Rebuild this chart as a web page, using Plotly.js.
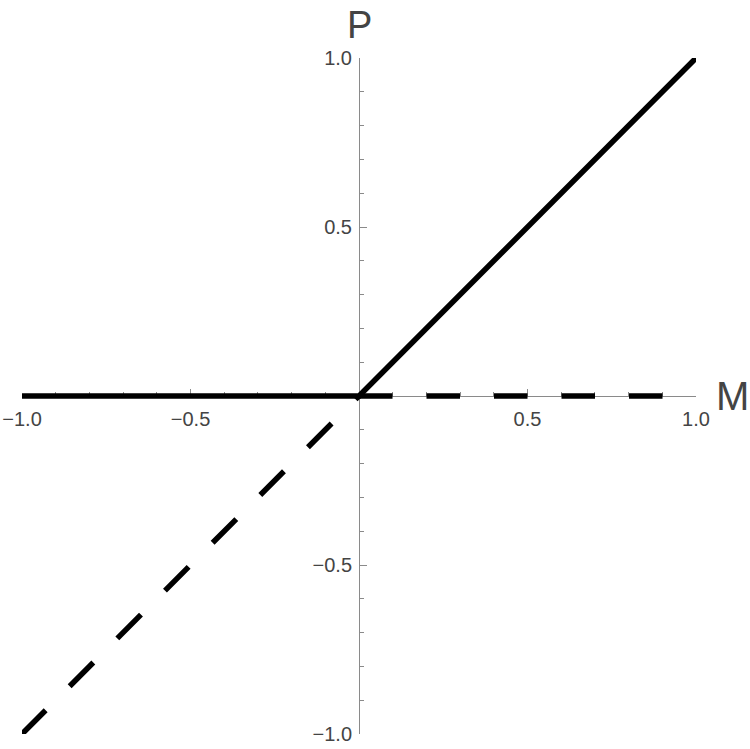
<!DOCTYPE html>
<html>
<head>
<meta charset="utf-8">
<script src="https://cdn.plot.ly/plotly-3.0.1.min.js"></script>
<style>
  html, body { margin: 0; padding: 0; background: #fff; }
  #chart { width: 750px; height: 749px; }
</style>
</head>
<body>
<div id="chart"></div>
<script>
// solid curve: P = max(M, 0)
var solidM = [-1, 0, 1];
var solidP = [0, 0, 1];
// dashed curve: P = min(M, 0), drawn as two pieces
var dashLeftM = [-1, 0];
var dashLeftP = [-1, 0];
var dashRightM = [0, 1];
var dashRightP = [0, 0];

var tickVals = [-1, -0.5, 0.5, 1];
var tickText = ['\u22121.0', '\u22120.5', '0.5', '1.0'];

var axisGray = '#8a8a8a';
var textGray = '#444444';
var lineW = 5.5;
var dashPat = '33.5px,34px';

function axisStyle(standoff) {
  return {
    range: [-1, 1],
    anchor: 'free',
    position: 0.5,
    layer: 'below traces',
    showline: true,
    linecolor: axisGray,
    linewidth: 1,
    zeroline: false,
    showgrid: false,
    ticks: 'inside',
    ticklen: 7,
    tickwidth: 1,
    tickcolor: axisGray,
    tickmode: 'array',
    tickvals: tickVals,
    ticktext: tickText,
    ticklabelstandoff: standoff,
    tickfont: { family: 'Liberation Sans, Arial, sans-serif', size: 20, color: textGray },
    minor: { tick0: 0, dtick: 0.1, ticks: 'inside', ticklen: 4, tickwidth: 1, tickcolor: axisGray, showgrid: false },
    fixedrange: true
  };
}

var data = [
  { x: dashLeftM, y: dashLeftP, mode: 'lines', line: { color: '#000', width: lineW, dash: dashPat }, hoverinfo: 'skip' },
  { x: dashRightM, y: dashRightP, mode: 'lines', line: { color: '#000', width: lineW, dash: dashPat }, hoverinfo: 'skip' },
  { x: solidM, y: solidP, mode: 'lines', line: { color: '#000', width: lineW }, hoverinfo: 'skip' }
];

var layout = {
  width: 750,
  height: 749,
  margin: { l: 22, r: 54, t: 58, b: 15 },
  paper_bgcolor: '#fff',
  plot_bgcolor: '#fff',
  showlegend: false,
  xaxis: axisStyle(5),
  yaxis: axisStyle(3),
  annotations: [
    { text: 'P', xref: 'x', x: 0, yref: 'paper', y: 1, yshift: 33, xanchor: 'center', yanchor: 'middle',
      showarrow: false, font: { family: 'Liberation Sans, Arial, sans-serif', size: 38, color: textGray } },
    { text: 'M', xref: 'paper', x: 1, xshift: 18, yref: 'y', y: 0, xanchor: 'left', yanchor: 'middle',
      showarrow: false, font: { family: 'Liberation Sans, Arial, sans-serif', size: 40, color: textGray } }
  ]
};

Plotly.newPlot('chart', data, layout, { displayModeBar: false, staticPlot: true });
</script>
</body>
</html>
